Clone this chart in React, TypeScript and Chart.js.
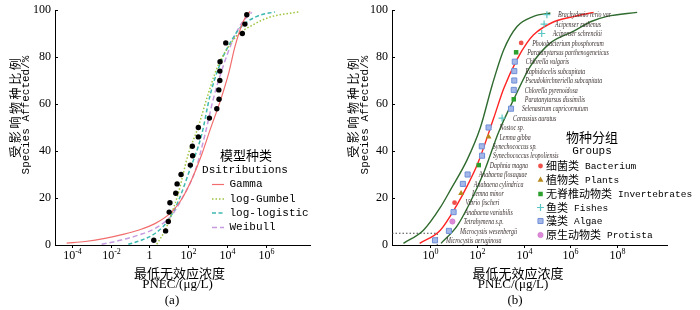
import React, { useEffect, useRef } from "react";
import { Chart, registerables } from "chart.js";
import { drawPoint } from "chart.js/helpers";

Chart.register(...registerables);

// ---------------- data ----------------
const AFFECTED = [2, 6, 10, 14, 18, 22, 26, 30, 34, 38, 42, 46, 50, 54, 58, 62, 66, 70, 74, 78, 82, 86, 90, 94, 98];
const SPECIES = [
  "Microcystis aeruginosa",
  "Microcystis wesenbergii",
  "Tetrahymena s.p.",
  "Anabaena variabilis",
  "Vibrio fischeri",
  "Lemna minor",
  "Anabaena cylindrica",
  "Anabaena flosaquae",
  "Daphnia magna",
  "Synechococcus leopoliensis",
  "Synechococcus sp.",
  "Lemna gibba",
  "Nostoc sp.",
  "Carassius auratus",
  "Selenastrum capricornutum",
  "Paratanytarsus dissimilis",
  "Chlorella pyrenoidosa",
  "Pseudokirchneriella subcapitata",
  "Raphidocelis subcapitata",
  "Chlorella vulgaris",
  "Paratanytarsus parthenogeneticus",
  "Photobacterium phosphoreum",
  "Acipenser schrenckii",
  "Acipenser ruthenus",
  "Brachydanio rerio var",
];
const PNEC = [1.6, 6.3, 8.9, 10, 11, 21, 25, 40, 120, 166, 162, 316, 316, 1200, 2900, 3800, 3800, 4000, 4000, 4200, 4800, 7900, 60000, 76000, 100000];
// 0 Bacterium, 1 Plants, 2 Invertebrates, 3 Fishes, 4 Algae, 5 Protista
const GROUP = [4, 4, 5, 4, 0, 1, 4, 4, 2, 4, 4, 1, 4, 3, 4, 2, 4, 4, 4, 4, 2, 0, 3, 3, 3];
const GROUP_CN = ["细菌类", "植物类", "无脊椎动物类", "鱼类", "藻类", "原生动物类"];
const GROUP_EN = ["Bacterium", "Plants", "Invertebrates", "Fishes", "Algae", "Protista"];

// panel (a) observed points
const LEFT_PNEC = [1.7, 6.9, 9.5, 10.5, 11.5, 23, 27, 43, 130, 170, 165, 335, 335, 1250, 3000, 3900, 3800, 4300, 4300, 4400, 8700, 62000, 84000, 105000];
const LEFT_AFFECTED = [2, 6, 10, 14, 18, 22, 26, 30, 34, 38, 42, 46, 50, 54, 58, 62, 66, 70, 74, 78, 86, 90, 94, 98];

const DIST_NAMES = ["Gamma", "log-Gumbel", "log-logistic", "Weibull"];

const GAMMA_X = [5.5e-5, 5e-4, 5.2e-3, 0.05, 0.27, 1.95, 14, 47, 155, 500, 1350, 4400, 11700, 26000, 48000, 85000, 155000];
const GAMMA_Y = [0.8, 1.5, 2.8, 4.6, 6.3, 9.1, 14, 19.6, 28, 38.5, 49, 61, 72.5, 84.5, 91.7, 96.6, 99.4];
const GUMBEL_X = [2.4, 6.5, 14, 32, 100, 340, 910, 2950, 9800, 32000, 230000, 1.66e6, 4.8e7];
const GUMBEL_Y = [0.3, 6.3, 13.3, 22.4, 38.5, 50.5, 62.3, 74.9, 83.3, 89, 93.8, 97, 99.2];
const LOGIS_X = [0.083, 0.41, 1.95, 9.5, 32, 100, 500, 1350, 4400, 14500, 48000, 350000, 3.0e6];
const LOGIS_Y = [0.3, 2.1, 4.9, 10.5, 18.9, 30, 47, 63.7, 77, 86, 92.4, 97.3, 99.2];
const WEIB_X = [3.5e-3, 0.032, 0.27, 1.95, 14, 47, 230, 740, 2000, 6500, 21000, 58000, 190000];
const WEIB_Y = [0.3, 2, 4.2, 7, 12.6, 19.6, 31.5, 47, 62.3, 76.3, 87.5, 94.5, 99];

const FIT_X = [0.35, 2.7, 13.8, 40, 112, 525, 1400, 5250, 14000, 27000, 200000, 1.4e6, 1e7];
const FIT_Y = [0.7, 6.3, 17, 25.5, 35, 54, 66.5, 79, 86, 89.5, 95, 97.2, 99];
const LOWER_X = [0.071, 0.51, 2.7, 7.9, 37, 141, 450, 1400, 5250, 27000, 141000];
const LOWER_Y = [0.7, 6.3, 16, 24, 36, 50, 68, 83, 93, 97.3, 98.7];
const UPPER_X = [2.9, 14, 45, 200, 850, 3800, 19500, 141000, 1.4e6, 7.4e6, 3.8e7, 7.4e8];
const UPPER_Y = [0.7, 8, 17, 31, 48, 62, 76, 86, 91, 95, 97.3, 99];
const HC5_X = [0.0229, 2.0, 2.0];
const HC5_Y = [5, 5, 0];

const Y_TICKS = [0, 20, 40, 60, 80, 100];
const LEFT_X_TICKS = [1e-4, 1e-2, 1, 1e2, 1e4, 1e6];
const RIGHT_X_TICKS = [1, 1e2, 1e4, 1e6, 1e8];
const LEFT_X_RANGE = [1.38e-5, 1.9e8];
const RIGHT_X_RANGE = [0.0229, 1.41e10];

// ---------------- styles ----------------
const SERIF = "'Liberation Serif', 'Times New Roman', serif";
const MONO = "'Liberation Mono', 'DejaVu Sans Mono', monospace";
const CJK = "'Noto Sans CJK SC', sans-serif";

const DIST_STYLE = [
  { color: "#f26d6d", dash: [] as number[], width: 1.2 },
  { color: "#9cc43c", dash: [1.5, 2], width: 1.5 },
  { color: "#3cb8b0", dash: [4, 2.5], width: 1.5 },
  { color: "#c79be0", dash: [5, 3], width: 1.5 },
];
const GROUP_STYLE = [
  { pointStyle: "circle", radius: 2.4, bg: "#f0504a", border: "#f0504a", bw: 0 },
  { pointStyle: "triangle", radius: 3.4, bg: "#b8891c", border: "#b8891c", bw: 0 },
  { pointStyle: "rect", radius: 3.2, bg: "#2ca02c", border: "#2ca02c", bw: 0 },
  { pointStyle: "cross", radius: 3.5, bg: "#5cc5c5", border: "#5cc5c5", bw: 1.2 },
  { pointStyle: "rect", radius: 3.6, bg: "#a3b7e8", border: "#6f8fd8", bw: 1 },
  { pointStyle: "circle", radius: 2.7, bg: "#dc8ad8", border: "#c870c8", bw: 0.5 },
];

const zip = (xs: number[], ys: number[]) => xs.map((x, i) => ({ x, y: ys[i] }));

function text(ctx: CanvasRenderingContext2D, s: string, x: number, y: number, font: string, align: CanvasTextAlign = "center", color = "#000") {
  ctx.font = font;
  ctx.fillStyle = color;
  ctx.textAlign = align;
  ctx.textBaseline = "middle";
  ctx.fillText(s, x, y);
}

function rotText(ctx: CanvasRenderingContext2D, s: string, x: number, y: number, font: string, spacing = 0) {
  ctx.save();
  ctx.translate(x, y);
  ctx.rotate(-Math.PI / 2);
  (ctx as any).letterSpacing = spacing + "px";
  text(ctx, s, spacing / 2, 0, font);
  (ctx as any).letterSpacing = "0px";
  ctx.restore();
}

function powLabel(ctx: CanvasRenderingContext2D, v: number, x: number, y: number, plainOne: boolean) {
  const e = Math.round(Math.log10(v));
  const baseFont = `12px ${SERIF}`;
  const expFont = `8px ${SERIF}`;
  if (plainOne && e === 0) {
    text(ctx, "1", x, y, baseFont);
    return;
  }
  const base = "10";
  const ex = String(e);
  ctx.font = baseFont;
  const bw = ctx.measureText(base).width;
  ctx.font = expFont;
  const ew = ctx.measureText(ex).width;
  const start = x - (bw + ew) / 2;
  text(ctx, base, start, y, baseFont, "left");
  text(ctx, ex, start + bw, y - 4.5, expFont, "left");
}

function drawAxesDecor(chart: any, xTicks: number[], plainOne: boolean) {
  const ctx: CanvasRenderingContext2D = chart.ctx;
  const xs = chart.scales.x;
  const ys = chart.scales.y;
  const a = chart.chartArea;
  ctx.save();
  ctx.strokeStyle = "#000";
  ctx.lineWidth = 1;
  for (const v of Y_TICKS) {
    const py = Math.round(ys.getPixelForValue(v)) + 0.5;
    ctx.beginPath();
    ctx.moveTo(a.left, py);
    ctx.lineTo(a.left + 3, py);
    ctx.stroke();
  }
  for (const v of xTicks) {
    const px = Math.round(xs.getPixelForValue(v)) + 0.5;
    ctx.beginPath();
    ctx.moveTo(px, a.bottom);
    ctx.lineTo(px, a.bottom + 3);
    ctx.stroke();
    powLabel(ctx, v, px, a.bottom + 11, plainOne);
  }
  ctx.restore();
}

const leftDecor = {
  id: "leftDecor",
  afterDraw(chart: any) {
    const ctx: CanvasRenderingContext2D = chart.ctx;
    drawAxesDecor(chart, LEFT_X_TICKS, true);
    ctx.save();
    rotText(ctx, "受影响物种比例", 15, 108, `12px ${CJK}`, 2.6);
    rotText(ctx, "Species Affected/%", 26.5, 115, `11px ${MONO}`);
    text(ctx, "最低无效应浓度", 179.5, 273, `13px ${CJK}`);
    text(ctx, "PNEC/(μg/L)", 177.5, 285, `13px ${SERIF}`);
    text(ctx, "(a)", 172, 301, `13px ${SERIF}`);
    // legend
    text(ctx, "模型种类", 246, 155, `13px ${CJK}`);
    text(ctx, "Dsitributions", 245, 170, `11px ${MONO}`);
    const rows = [184.5, 199, 213, 227.5];
    DIST_NAMES.forEach((name, i) => {
      const st = DIST_STYLE[i];
      ctx.save();
      ctx.strokeStyle = st.color;
      ctx.lineWidth = st.width;
      ctx.setLineDash(st.dash);
      ctx.beginPath();
      ctx.moveTo(212, rows[i]);
      ctx.lineTo(224, rows[i]);
      ctx.stroke();
      ctx.restore();
      text(ctx, name, 229.5, rows[i], `11px ${MONO}`, "left");
    });
    ctx.restore();
  },
};

const rightDecor = {
  id: "rightDecor",
  afterDraw(chart: any) {
    const ctx: CanvasRenderingContext2D = chart.ctx;
    const xs = chart.scales.x;
    const ys = chart.scales.y;
    drawAxesDecor(chart, RIGHT_X_TICKS, false);
    ctx.save();
    // species labels
    SPECIES.forEach((name, i) => {
      const px = xs.getPixelForValue(PNEC[i]) + 11;
      const py = ys.getPixelForValue(AFFECTED[i]);
      ctx.save();
      ctx.translate(px, py);
      ctx.scale(0.74, 1);
      text(ctx, name, 0, 0.5, `italic 8px ${SERIF}`, "left", "#3e3232");
      ctx.restore();
    });
    rotText(ctx, "受影响物种比例", 13, 108, `12px ${CJK}`, 2.6);
    rotText(ctx, "Species Affected/%", 25, 115, `11px ${MONO}`);
    text(ctx, "最低无效应浓度", 178, 273, `13px ${CJK}`);
    text(ctx, "PNEC/(μg/L)", 173, 285, `13px ${SERIF}`);
    text(ctx, "(b)", 175, 301, `13px ${SERIF}`);
    // legend
    text(ctx, "物种分组", 252, 137, `13px ${CJK}`);
    text(ctx, "Groups", 252, 151, `11px ${MONO}`);
    const rows = [166, 180, 194, 207.5, 221, 235];
    GROUP_CN.forEach((cn, i) => {
      const st = GROUP_STYLE[i];
      ctx.save();
      ctx.fillStyle = st.bg;
      ctx.strokeStyle = st.border;
      ctx.lineWidth = st.bw;
      drawPoint(ctx, { pointStyle: st.pointStyle as any, radius: st.radius, rotation: 0, borderWidth: st.bw } as any, 200.5, rows[i]);
      ctx.restore();
      ctx.font = `11px ${CJK}`;
      const w = ctx.measureText(cn).width;
      text(ctx, cn, 206, rows[i], `11px ${CJK}`, "left");
      text(ctx, GROUP_EN[i], 206 + w + 6, rows[i] + 0.5, `9.5px ${MONO}`, "left");
    });
    ctx.restore();
  },
};

function curve(xs: number[], ys: number[], color: string, width: number, dash: number[]) {
  return {
    data: zip(xs, ys),
    showLine: true,
    borderColor: color,
    backgroundColor: color,
    borderWidth: width,
    borderDash: dash,
    pointRadius: 0,
    pointHoverRadius: 0,
    cubicInterpolationMode: "monotone",
    fill: false,
  };
}

function scales(range: number[], yWidth: number) {
  return {
    x: {
      type: "logarithmic",
      min: range[0],
      max: range[1],
      grid: { display: false, drawTicks: false },
      border: { display: true, color: "#000", width: 1 },
      ticks: { display: false },
      afterFit: (s: any) => {
        s.height = 65;
      },
    },
    y: {
      type: "linear",
      min: 0,
      max: 100,
      grid: { display: false, drawTicks: false },
      border: { display: true, color: "#000", width: 1 },
      ticks: {
        stepSize: 20,
        padding: 4,
        color: "#000",
        font: { family: SERIF, size: 12, lineHeight: 1 },
      },
      afterFit: (s: any) => {
        s.width = yWidth;
      },
    },
  };
}

function leftConfig(): any {
  const datasets: any[] = [
    {
      data: zip(LEFT_PNEC, LEFT_AFFECTED),
      showLine: false,
      pointRadius: 2.7,
      pointBackgroundColor: "#000",
      pointBorderWidth: 0,
    },
    curve(GAMMA_X, GAMMA_Y, DIST_STYLE[0].color, DIST_STYLE[0].width, DIST_STYLE[0].dash),
    curve(GUMBEL_X, GUMBEL_Y, DIST_STYLE[1].color, DIST_STYLE[1].width, DIST_STYLE[1].dash),
    curve(LOGIS_X, LOGIS_Y, DIST_STYLE[2].color, DIST_STYLE[2].width, DIST_STYLE[2].dash),
    curve(WEIB_X, WEIB_Y, DIST_STYLE[3].color, DIST_STYLE[3].width, DIST_STYLE[3].dash),
  ];
  return {
    type: "scatter",
    data: { datasets },
    options: {
      responsive: false,
      animation: false,
      devicePixelRatio: 1,
      layout: { padding: { left: 0, top: 7, right: 40, bottom: 0 } },
      plugins: { legend: { display: false }, tooltip: { enabled: false } },
      scales: scales(LEFT_X_RANGE, 55),
    },
    plugins: [leftDecor],
  };
}

function rightConfig(): any {
  const groupSets = GROUP_CN.map((_, g) => {
    const st = GROUP_STYLE[g];
    const idx = PNEC.map((_, i) => i).filter((i) => GROUP[i] === g);
    return {
      data: idx.map((i) => ({ x: PNEC[i], y: AFFECTED[i] })),
      showLine: false,
      pointStyle: st.pointStyle,
      pointRadius: st.radius,
      pointBackgroundColor: st.bg,
      pointBorderColor: st.border,
      pointBorderWidth: st.bw,
    };
  });
  const datasets: any[] = [
    ...groupSets,
    curve(FIT_X, FIT_Y, "#ff2424", 1.4, []),
    curve(LOWER_X, LOWER_Y, "#2f6b2f", 1.4, []),
    curve(UPPER_X, UPPER_Y, "#2f6b2f", 1.4, []),
    {
      data: zip(HC5_X, HC5_Y),
      showLine: true,
      borderColor: "#333",
      borderWidth: 0.9,
      borderDash: [1.5, 2],
      pointRadius: 0,
      tension: 0,
    },
  ];
  return {
    type: "scatter",
    data: { datasets },
    options: {
      responsive: false,
      animation: false,
      devicePixelRatio: 1,
      layout: { padding: { left: 0, top: 7, right: 33, bottom: 0 } },
      plugins: { legend: { display: false }, tooltip: { enabled: false } },
      scales: scales(RIGHT_X_RANGE, 52),
    },
    plugins: [rightDecor],
  };
}

export default function App() {
  const leftRef = useRef<HTMLCanvasElement>(null);
  const rightRef = useRef<HTMLCanvasElement>(null);
  useEffect(() => {
    document.body.style.margin = "0";
    const l = new Chart(leftRef.current as HTMLCanvasElement, leftConfig());
    const r = new Chart(rightRef.current as HTMLCanvasElement, rightConfig());
    return () => {
      l.destroy();
      r.destroy();
    };
  }, []);
  return (
    <div style={{ position: "absolute", left: 0, top: 0, width: 700, height: 310, background: "#fff", overflow: "hidden" }}>
      <canvas ref={leftRef} width={350} height={310} style={{ position: "absolute", left: 0, top: 0, width: 350, height: 310 }} />
      <canvas ref={rightRef} width={360} height={310} style={{ position: "absolute", left: 340, top: 0, width: 360, height: 310 }} />
    </div>
  );
}
